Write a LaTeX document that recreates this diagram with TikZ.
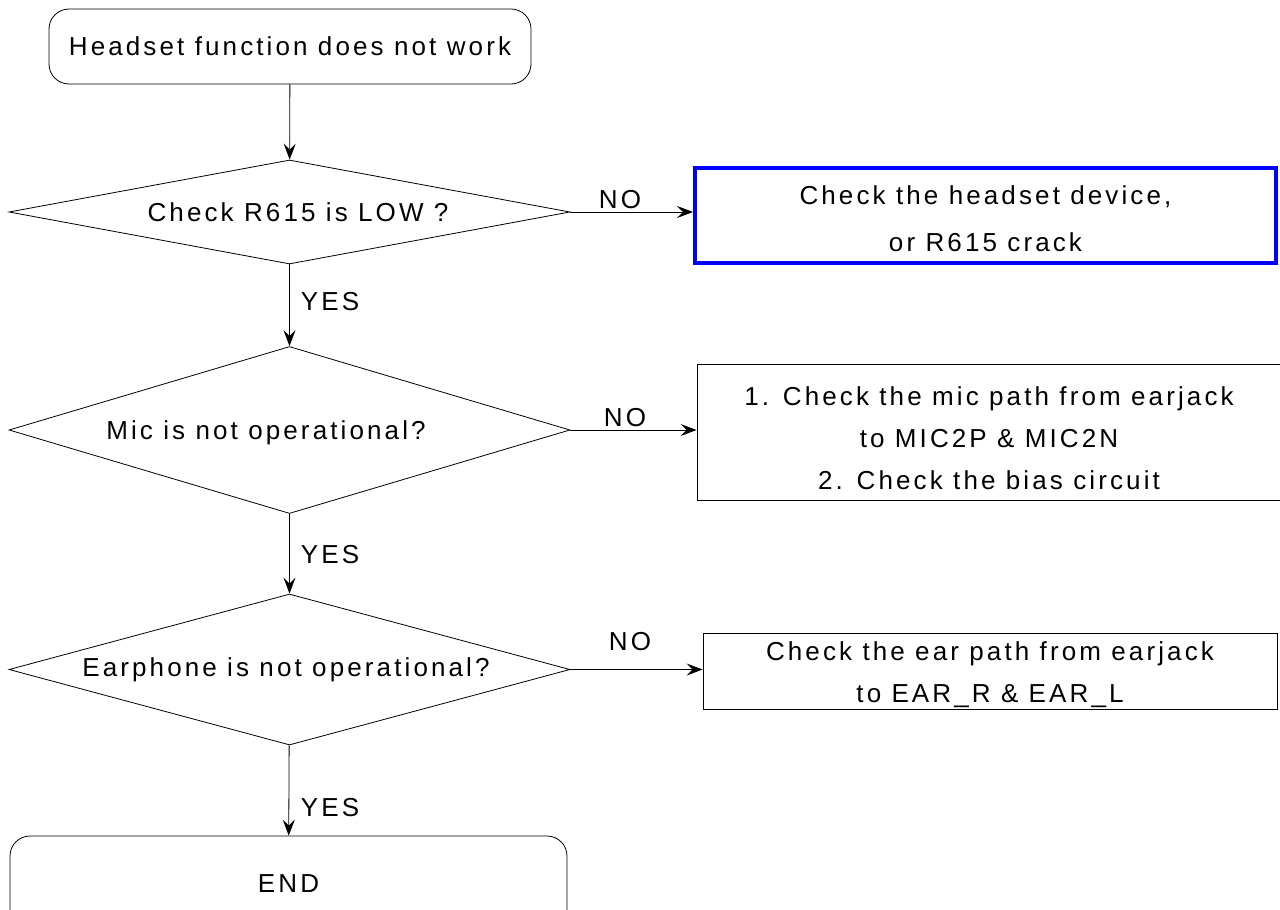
\documentclass[tikz,border=0pt]{standalone}
\usepackage{fontspec}
\setmainfont[LetterSpace=12]{Liberation Sans}
\usetikzlibrary{arrows.meta,shapes.geometric}
\begin{document}
\begin{tikzpicture}[x=1pt,y=-1pt,
  txt/.style={font=\fontsize{26}{42}\selectfont},
  term/.style={txt, draw, rectangle, rounded corners=20pt, inner sep=0pt, line width=0.8pt},
  dec/.style={draw, diamond, inner sep=0pt, line width=0.8pt},
  act/.style={txt, draw, rectangle, inner sep=0pt, align=center, line width=0.9pt},
  lbl/.style={txt, inner sep=0pt},
  arr/.style={-{Stealth[length=16pt,width=12pt,inset=6pt]}, line width=0.8pt}]
\useasboundingbox (0,0) rectangle (1280,910);

\node[term, minimum width=482pt, minimum height=75pt] (start) at (290,46.5) {Headset function does not work};

\node[dec, minimum width=561pt, minimum height=104pt] (d1) at (289.5,212) {};
\node[lbl] (t1) at (298,212) {Check R615 is LOW ?};

\node[dec, minimum width=561pt, minimum height=167pt] (d2) at (289.5,430) {};
\node[lbl] (t2) at (266,433) {Mic is not operational?};

\node[dec, minimum width=561pt, minimum height=151pt] (d3) at (289.5,669.5) {};
\node[lbl] (t3) at (286,670) {Earphone is not operational?};

\node[term, minimum width=557pt, minimum height=96pt] (end) at (288.5,884) {END};

\node[act, draw=blue, line width=4pt, minimum width=581pt, minimum height=95pt] (b1) at (985.5,215.5)
  {\rule{0pt}{25pt}Check the headset device,\\[5pt] or R615 crack};
\node[act, minimum width=584pt, minimum height=136pt] (b2) at (989,432)
  {\rule{0pt}{31pt}1. Check the mic path from earjack\\to MIC2P \& MIC2N\\2. Check the bias circuit};
\node[act, minimum width=574pt, minimum height=76pt] (b3) at (990,671)
  {\rule{0pt}{27pt}Check the ear path from earjack\\to EAR\_R \& EAR\_L};

\draw[arr] (start) -- (d1);
\draw[arr] (d1) -- (d2);
\draw[arr] (d2) -- (d3);
\draw[arr] (d3) -- (end);

\draw[arr] (d1.east) -- (d1.east -| b1.west);
\draw[arr] (d2.east) -- (d2.east -| b2.west);
\draw[arr] (d3.east) -- (d3.east -| b3.west);

\node[lbl] (no1) at (620,200) {NO};
\node[lbl] (no2) at (625,418) {NO};
\node[lbl] (no3) at (630,642) {NO};
\node[lbl] (y1) at (330,302) {YES};
\node[lbl] (y2) at (330,555) {YES};
\node[lbl] (y3) at (330,808) {YES};
\end{tikzpicture}
\end{document}
